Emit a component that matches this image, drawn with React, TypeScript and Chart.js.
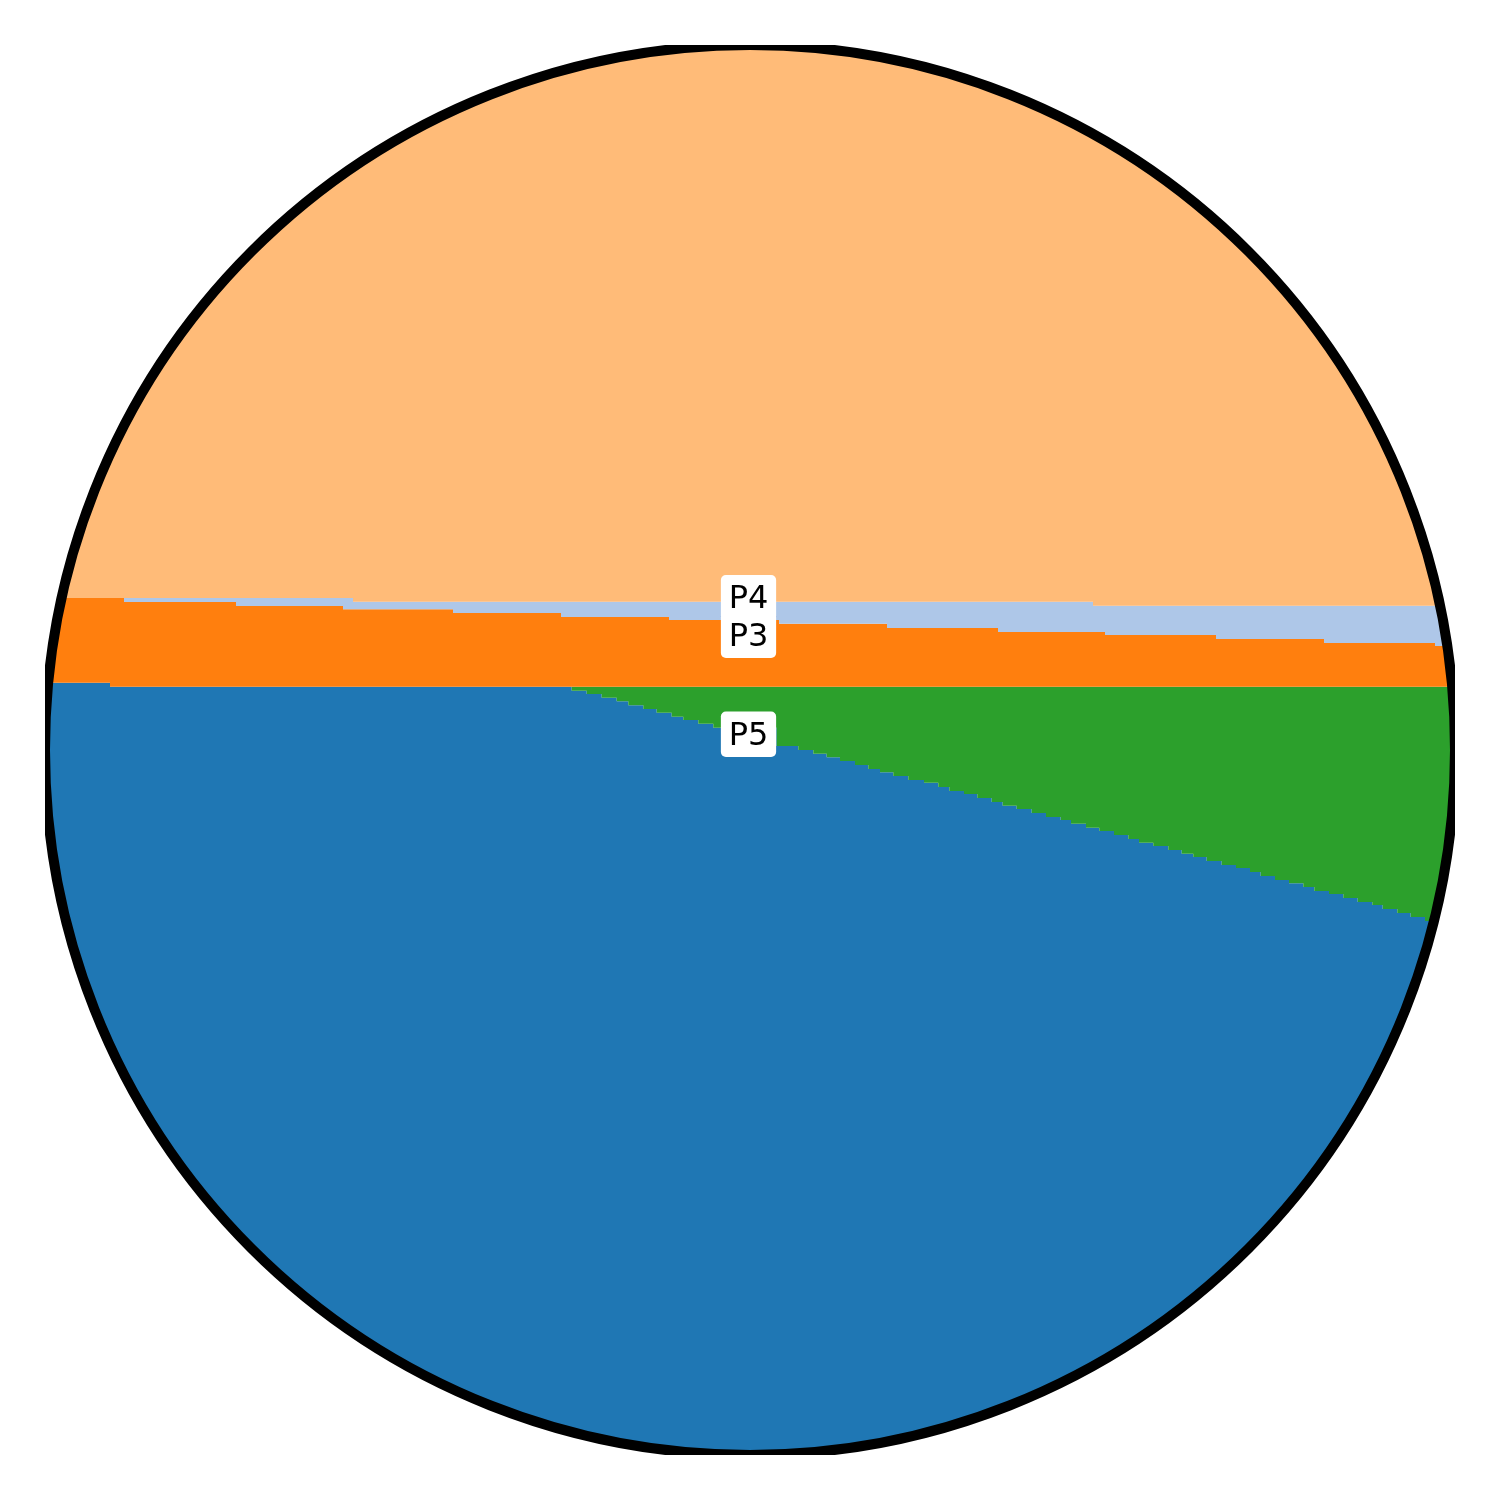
import React, { useEffect, useRef } from "react";
import { Chart, registerables } from "chart.js";

Chart.register(...registerables);

// Band boundaries (x, y in data units; circle centre at 0,0, radius 705)
const b1X = [-750, -397, 343, 750];
const b1Y = [152, 148.3, 144.3, 144.3];

const b2X = [-750, -626, -514, -407, -297, -189, -81, 29, 137, 248, 355, 466, 574, 685, 750];
const b2Y = [152, 148, 144, 140.7, 137, 133, 130, 126.3, 122, 118, 115, 111, 107, 104, 104];

const b3X = [-750, -640, 750];
const b3Y = [67.3, 63.3, 63.3];

const b4X = [
  -750, -640, -178.3, -163.3, -148.3, -133.3, -121.7, -106.7, -93.3, -78.3, -66.7, -51.7, -36.7,
  26.7, 48.3, 63.3, 76.7, 90, 105, 118.3, 130, 143.3, 158.3,
  174, 188.3, 199.3, 214, 227.3, 241.7, 252.7, 266.7, 281.7, 296,
  310.7, 321, 336, 349.3, 364, 378.3, 389, 403.3, 418.3, 431.7,
  443.3, 456.7, 471.7, 486, 500, 510.7, 525, 539, 553.3, 564.3,
  579, 593.3, 607.7, 622.3, 632.7, 647.3, 660.7, 675, 750,
];
const b4Y = [
  67.3, 63.3, 59.3, 56, 52.3, 48.7, 44.7, 41, 37.3, 33.3, 30, 26.3, 22.3,
  4, 0, -3.7, -7.3, -11, -15, -19, -22.3, -26, -30,
  -32.7, -37, -41, -44, -48, -52, -55.7, -59, -63, -67,
  -70, -73.7, -77.7, -81, -85, -89, -92.7, -96, -100, -103.7,
  -107, -111, -115, -118, -122, -126, -130, -133.3, -137, -141,
  -144, -148, -152, -155, -159, -163, -167, -171, -171,
];

const labelNames = ["P4", "P3", "P5"];
const labelY = [153.3, 115.8, 16.7];
const labelX = [-1.5, -1.5, -1.5];

const CIRCLE_R = 705;

const toPts = (xs: number[], ys: number[]) => xs.map((x, i) => ({ x, y: ys[i] }));

const circlePlugin = {
  id: "circleClip",
  beforeDatasetsDraw(chart: any) {
    const { ctx, scales } = chart;
    const cx = scales.x.getPixelForValue(0);
    const cy = scales.y.getPixelForValue(0);
    const r = scales.x.getPixelForValue(CIRCLE_R) - cx;
    ctx.save();
    ctx.beginPath();
    ctx.arc(cx, cy, r, 0, Math.PI * 2);
    ctx.clip();
  },
  afterDatasetsDraw(chart: any) {
    const { ctx, scales } = chart;
    ctx.restore();
    const cx = scales.x.getPixelForValue(0);
    const cy = scales.y.getPixelForValue(0);
    const r = scales.x.getPixelForValue(CIRCLE_R) - cx;
    ctx.save();
    ctx.beginPath();
    ctx.rect(cx - r, cy - r, 2 * r, 2 * r);
    ctx.clip();
    ctx.beginPath();
    ctx.arc(cx, cy, r, 0, Math.PI * 2);
    ctx.lineWidth = 10;
    ctx.strokeStyle = "#000000";
    ctx.stroke();
    ctx.restore();
  },
  afterDraw(chart: any) {
    const { ctx, scales } = chart;
    const fs = 32;
    ctx.save();
    ctx.font = `${fs}px 'DejaVu Sans'`;
    ctx.textAlign = "center";
    ctx.textBaseline = "alphabetic";
    labelNames.forEach((name, i) => {
      const px = scales.x.getPixelForValue(labelX[i]);
      const py = scales.y.getPixelForValue(labelY[i]);
      const w = ctx.measureText(name).width + 2 * 7.8;
      const h = 45.5;
      const bcy = py + 1;
      ctx.beginPath();
      ctx.roundRect(px - w / 2, bcy - h / 2, w, h, 5);
      ctx.fillStyle = "#ffffff";
      ctx.fill();
      ctx.fillStyle = "#000000";
      ctx.fillText(name, px, py + (0.729 * fs) / 2);
    });
    ctx.restore();
  },
};

export default function App() {
  const ref = useRef<HTMLCanvasElement>(null);
  useEffect(() => {
    document.body.style.margin = "0";
    const common = { borderWidth: 0, borderColor: "transparent", pointRadius: 0, stepped: true as const };
    const chart = new Chart(ref.current!, {
      type: "line",
      data: {
        datasets: [
          { ...common, label: "P1", data: toPts(b1X, b1Y), fill: "end", backgroundColor: "#ffbb78" },
          { ...common, label: "P4", data: toPts(b2X, b2Y), fill: "-1", backgroundColor: "#aec7e8" },
          { ...common, label: "P3", data: toPts(b3X, b3Y), fill: "-1", backgroundColor: "#ff7f0e" },
          { ...common, label: "P5", data: toPts(b4X, b4Y), fill: "-1", backgroundColor: "#2ca02c" },
          { ...common, label: "P2", data: toPts(b4X, b4Y), fill: "start", backgroundColor: "#1f77b4" },
        ],
      },
      options: {
        animation: false,
        responsive: false,
        devicePixelRatio: 1,
        layout: { padding: 0 },
        scales: {
          x: { type: "linear", min: -750, max: 750, display: false },
          y: { type: "linear", min: -750, max: 750, display: false },
        },
        plugins: { legend: { display: false }, tooltip: { enabled: false } },
      },
      plugins: [circlePlugin],
    });
    return () => chart.destroy();
  }, []);
  return <canvas ref={ref} width={1500} height={1500} style={{ display: "block" }} />;
}
